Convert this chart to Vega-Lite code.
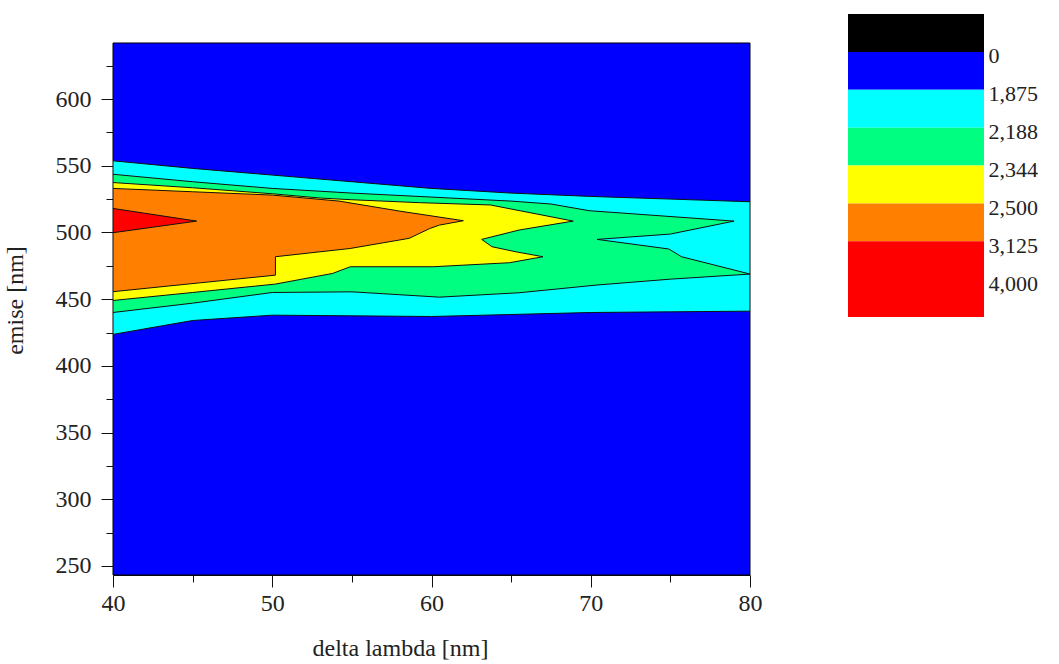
{
  "$schema": "https://vega.github.io/schema/vega-lite/v6.json",
  "padding": {"left": 3, "top": 14, "right": 0, "bottom": 0},
  "background": "white",
  "spacing": 86,
  "datasets": {
    "frame": [
      {"x0": 40, "x1": 80, "y0": 243.25, "y1": 642}
    ],
    "contours": [
      {"lvl": 1, "o": 0, "x": 40, "y": 553.7},
      {"lvl": 1, "o": 1, "x": 45, "y": 548},
      {"lvl": 1, "o": 2, "x": 50, "y": 543},
      {"lvl": 1, "o": 3, "x": 55, "y": 538},
      {"lvl": 1, "o": 4, "x": 60, "y": 533},
      {"lvl": 1, "o": 5, "x": 65, "y": 529.5},
      {"lvl": 1, "o": 6, "x": 70, "y": 527},
      {"lvl": 1, "o": 7, "x": 75, "y": 525},
      {"lvl": 1, "o": 8, "x": 80, "y": 523},
      {"lvl": 1, "o": 9, "x": 80, "y": 441},
      {"lvl": 1, "o": 10, "x": 75, "y": 440.5},
      {"lvl": 1, "o": 11, "x": 70, "y": 440},
      {"lvl": 1, "o": 12, "x": 65, "y": 438.5},
      {"lvl": 1, "o": 13, "x": 60, "y": 437},
      {"lvl": 1, "o": 14, "x": 55, "y": 437.5},
      {"lvl": 1, "o": 15, "x": 50, "y": 438},
      {"lvl": 1, "o": 16, "x": 45, "y": 434},
      {"lvl": 1, "o": 17, "x": 40, "y": 423.6},

      {"lvl": 2, "o": 0, "x": 40, "y": 543.6},
      {"lvl": 2, "o": 1, "x": 45, "y": 538},
      {"lvl": 2, "o": 2, "x": 50, "y": 533},
      {"lvl": 2, "o": 3, "x": 55, "y": 529.5},
      {"lvl": 2, "o": 4, "x": 60, "y": 526.5},
      {"lvl": 2, "o": 5, "x": 65, "y": 523.5},
      {"lvl": 2, "o": 6, "x": 67.5, "y": 521.3},
      {"lvl": 2, "o": 7, "x": 69.9, "y": 516.3},
      {"lvl": 2, "o": 8, "x": 79, "y": 508.5},
      {"lvl": 2, "o": 9, "x": 75, "y": 498.8},
      {"lvl": 2, "o": 10, "x": 70.4, "y": 494.8},
      {"lvl": 2, "o": 11, "x": 74.9, "y": 487.6},
      {"lvl": 2, "o": 12, "x": 75.7, "y": 481.8},
      {"lvl": 2, "o": 13, "x": 80, "y": 468.8},
      {"lvl": 2, "o": 14, "x": 75, "y": 465},
      {"lvl": 2, "o": 15, "x": 70.4, "y": 460.6},
      {"lvl": 2, "o": 16, "x": 65.5, "y": 454.8},
      {"lvl": 2, "o": 17, "x": 60.5, "y": 451.5},
      {"lvl": 2, "o": 18, "x": 55, "y": 455.5},
      {"lvl": 2, "o": 19, "x": 50, "y": 455},
      {"lvl": 2, "o": 20, "x": 45, "y": 447},
      {"lvl": 2, "o": 21, "x": 40, "y": 440},

      {"lvl": 3, "o": 0, "x": 40, "y": 537.4},
      {"lvl": 3, "o": 1, "x": 45, "y": 533.5},
      {"lvl": 3, "o": 2, "x": 50, "y": 529},
      {"lvl": 3, "o": 3, "x": 53, "y": 525.8},
      {"lvl": 3, "o": 4, "x": 55, "y": 524.5},
      {"lvl": 3, "o": 5, "x": 59.3, "y": 522.3},
      {"lvl": 3, "o": 6, "x": 63.7, "y": 520.6},
      {"lvl": 3, "o": 7, "x": 68.9, "y": 508.5},
      {"lvl": 3, "o": 8, "x": 65.5, "y": 501.8},
      {"lvl": 3, "o": 9, "x": 63.15, "y": 494.8},
      {"lvl": 3, "o": 10, "x": 63.8, "y": 489.3},
      {"lvl": 3, "o": 11, "x": 65.3, "y": 485.5},
      {"lvl": 3, "o": 12, "x": 67, "y": 481.8},
      {"lvl": 3, "o": 13, "x": 64.9, "y": 477.3},
      {"lvl": 3, "o": 14, "x": 60.1, "y": 474.3},
      {"lvl": 3, "o": 15, "x": 54.9, "y": 474.3},
      {"lvl": 3, "o": 16, "x": 53.8, "y": 469.3},
      {"lvl": 3, "o": 17, "x": 50.2, "y": 461.3},
      {"lvl": 3, "o": 18, "x": 45, "y": 455},
      {"lvl": 3, "o": 19, "x": 40, "y": 449},

      {"lvl": 4, "o": 0, "x": 40, "y": 533},
      {"lvl": 4, "o": 1, "x": 45, "y": 530.5},
      {"lvl": 4, "o": 2, "x": 50, "y": 528},
      {"lvl": 4, "o": 3, "x": 54.2, "y": 523.5},
      {"lvl": 4, "o": 4, "x": 58, "y": 516},
      {"lvl": 4, "o": 5, "x": 62, "y": 508.8},
      {"lvl": 4, "o": 6, "x": 60.5, "y": 505.5},
      {"lvl": 4, "o": 7, "x": 59.9, "y": 503},
      {"lvl": 4, "o": 8, "x": 58.6, "y": 495.6},
      {"lvl": 4, "o": 9, "x": 54.9, "y": 488},
      {"lvl": 4, "o": 10, "x": 53, "y": 485.5},
      {"lvl": 4, "o": 11, "x": 50.2, "y": 481.8},
      {"lvl": 4, "o": 12, "x": 50.2, "y": 468},
      {"lvl": 4, "o": 13, "x": 40, "y": 455.6},

      {"lvl": 5, "o": 0, "x": 40, "y": 518},
      {"lvl": 5, "o": 1, "x": 45.25, "y": 508.5},
      {"lvl": 5, "o": 2, "x": 40, "y": 499.8}
    ],
    "legend": [
      {"band": "k", "lo": 0, "hi": 1},
      {"band": "b", "lo": 1, "hi": 2},
      {"band": "c", "lo": 2, "hi": 3},
      {"band": "g", "lo": 3, "hi": 4},
      {"band": "y", "lo": 4, "hi": 5},
      {"band": "o", "lo": 5, "hi": 6},
      {"band": "r", "lo": 6, "hi": 8}
    ]
  },
  "hconcat": [
    {
      "width": 637,
      "height": 561,
      "view": {"stroke": null},
      "encoding": {
        "x": {
          "field": "x", "type": "quantitative",
          "scale": {"domain": [40, 80], "nice": false, "zero": false},
          "axis": {
            "title": "delta lambda [nm]",
            "values": [40, 45, 50, 55, 60, 65, 70, 75, 80],
            "labelExpr": "datum.value % 10 === 0 ? datum.label : ''",
            "tickSize": {"condition": {"test": "datum.value % 10 === 0", "value": 12}, "value": 7},
            "labelPadding": 4,
            "titlePadding": 21,
            "titleX": 287,
            "labelFlush": false
          }
        },
        "y": {
          "field": "y", "type": "quantitative",
          "scale": {"domain": [243.25, 663.73], "nice": false, "zero": false},
          "axis": {
            "title": "emise [nm]",
            "domain": false,
            "values": [250, 275, 300, 325, 350, 375, 400, 425, 450, 475, 500, 525, 550, 575, 600, 625],
            "labelExpr": "datum.value % 50 === 0 ? datum.label : ''",
            "tickSize": {"condition": {"test": "datum.value % 50 === 0", "value": 12}, "value": 7},
            "labelPadding": 10,
            "titlePadding": 28,
            "titleY": 286
          }
        },
        "order": {"field": "o", "type": "quantitative"}
      },
      "layer": [
        {
          "data": {"name": "frame"},
          "mark": {"type": "rect", "fill": "#0000ff", "stroke": "#000000", "strokeWidth": 1},
          "encoding": {
            "x": {"field": "x0", "type": "quantitative"},
            "x2": {"field": "x1"},
            "y": {"field": "y0", "type": "quantitative"},
            "y2": {"field": "y1"},
            "order": null
          }
        },
        {"data": {"name": "contours"}, "transform": [{"filter": "datum.lvl === 1"}],
         "mark": {"type": "line", "interpolate": "linear-closed", "fill": "#00ffff", "stroke": "#101010", "strokeWidth": 1, "clip": true}},
        {"data": {"name": "contours"}, "transform": [{"filter": "datum.lvl === 2"}],
         "mark": {"type": "line", "interpolate": "linear-closed", "fill": "#00ff80", "stroke": "#101010", "strokeWidth": 1, "clip": true}},
        {"data": {"name": "contours"}, "transform": [{"filter": "datum.lvl === 3"}],
         "mark": {"type": "line", "interpolate": "linear-closed", "fill": "#ffff00", "stroke": "#101010", "strokeWidth": 1, "clip": true}},
        {"data": {"name": "contours"}, "transform": [{"filter": "datum.lvl === 4"}],
         "mark": {"type": "line", "interpolate": "linear-closed", "fill": "#ff8000", "stroke": "#101010", "strokeWidth": 1, "clip": true}},
        {"data": {"name": "contours"}, "transform": [{"filter": "datum.lvl === 5"}],
         "mark": {"type": "line", "interpolate": "linear-closed", "fill": "#ff0000", "stroke": "#101010", "strokeWidth": 1, "clip": true}}
      ]
    },
    {
      "width": 136,
      "height": 303,
      "view": {"stroke": null},
      "data": {"name": "legend"},
      "mark": {"type": "rect"},
      "encoding": {
        "y": {
          "field": "lo", "type": "quantitative",
          "scale": {"domain": [0, 8], "nice": false, "zero": false, "reverse": true},
          "axis": {
            "orient": "right",
            "title": null,
            "values": [1, 2, 3, 4, 5, 6, 7],
            "labelExpr": "['0','1,875','2,188','2,344','2,500','3,125','4,000'][datum.value - 1]",
            "ticks": false,
            "domain": false,
            "grid": false,
            "labelPadding": 4,
            "labelFontSize": 22,
            "labelOffset": 4
          }
        },
        "y2": {"field": "hi"},
        "fill": {
          "field": "band", "type": "nominal",
          "scale": {"domain": ["k", "b", "c", "g", "y", "o", "r"], "range": ["#000000", "#0000ff", "#00ffff", "#00ff80", "#ffff00", "#ff8000", "#ff0000"]},
          "legend": null
        }
      }
    }
  ],
  "config": {
    "view": {"stroke": null},
    "axis": {
      "grid": false,
      "labelFont": "Liberation Serif",
      "labelFontSize": 24,
      "labelColor": "#222222",
      "titleFont": "Liberation Serif",
      "titleFontSize": 24,
      "titleFontWeight": "normal",
      "titleColor": "#222222",
      "tickColor": "#111111",
      "domainColor": "#111111",
      "labelOverlap": false
    }
  }
}
